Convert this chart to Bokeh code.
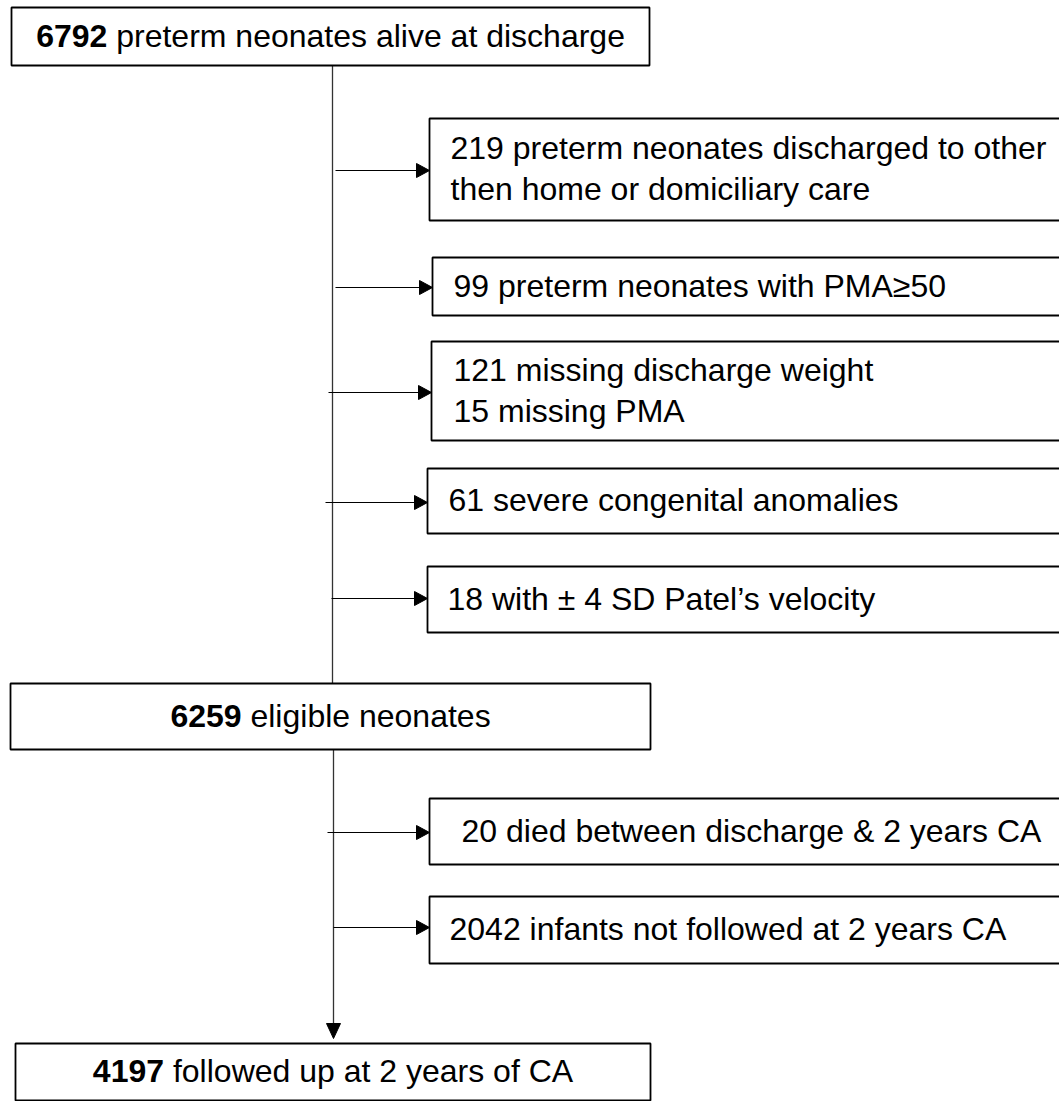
from bokeh.plotting import figure
from bokeh.models import Range1d
from bokeh.core.properties import value
from bokeh.embed import file_html
from bokeh.resources import INLINE

# ---------------- data ----------------
main_counts = ["6792", "6259", "4197"]
main_labels = ["preterm neonates alive at discharge",
               "eligible neonates",
               "followed up at 2 years of CA"]

excl_lines = [
    ["219 preterm neonates discharged to other", "then home or domiciliary care"],
    ["99 preterm neonates with PMA\u226550"],
    ["121 missing discharge weight", "15 missing PMA"],
    ["61 severe congenital anomalies"],
    ["18 with \u00b1 4 SD Patel\u2019s velocity"],
    ["20 died between discharge & 2 years CA"],
    ["2042 infants not followed at 2 years CA"],
]

# ---------------- layout (screen pixels) ----------------
main_left = [11, 10, 15]
main_right = [649, 650, 650]
main_top = [7, 683, 1043]
main_bottom = [65, 749, 1100]

side_left = [429, 432, 431, 427, 427, 429, 429]
side_top = [118, 257, 341, 468, 566, 798, 896]
side_bottom = [220, 315, 440, 533, 632, 864, 963]
side_arrow_y = [170, 287, 392, 502, 598, 832, 927]
side_arrow_x0 = [335, 335, 328, 325, 331, 327, 333]
side_text_x = [450, 453, 453, 448, 447, 461, 449]

spine_x = [332, 333]

FONT = "Liberation Sans"
FS = 32
LINE_GAP = 41
BASE_OFF = -1.0   # baseline offset from box centre (empirically corrected)

# Arial / Liberation Sans advance widths (1/1000 em)
ADV = {' ': 278, 'a': 556, 'b': 556, 'c': 500, 'd': 556, 'e': 556, 'f': 278,
       'g': 556, 'h': 556, 'i': 222, 'l': 222, 'm': 833, 'n': 556, 'o': 556,
       'p': 556, 'r': 333, 's': 500, 't': 278, 'u': 556, 'v': 500, 'w': 722,
       'y': 500, 'A': 667, 'C': 722}
for d in "0123456789":
    ADV[d] = 556


def text_w(s):
    return sum(ADV.get(ch, 556) for ch in s) / 1000.0 * FS


p = figure(width=1059, height=1101,
           x_range=Range1d(0, 1059), y_range=Range1d(1101, 0),
           output_backend="svg", toolbar_location=None,
           x_axis_location=None, y_axis_location=None,
           min_border=0, background_fill_color="white",
           border_fill_color="white")
p.grid.visible = False
p.outline_line_color = None

# spine lines
p.segment(x0=[spine_x[0], spine_x[1]], y0=[main_bottom[0], main_bottom[1]],
          x1=[spine_x[0], spine_x[1]], y1=[main_top[1], main_top[2] - 19],
          line_color="#333333", line_width=1.3)
# down arrowhead
tip_y = main_top[2] - 5
p.patches(xs=[[spine_x[1] - 7, spine_x[1], spine_x[1] + 7]],
          ys=[[tip_y - 15, tip_y, tip_y - 15]],
          fill_color="black", line_color="black", line_width=1)

# side arrows
p.segment(x0=side_arrow_x0, y0=side_arrow_y,
          x1=[l - 11 for l in side_left], y1=side_arrow_y,
          line_color="black", line_width=1.2)
p.patches(xs=[[l - 13, l, l - 13] for l in side_left],
          ys=[[y - 7, y, y + 7] for y in side_arrow_y],
          fill_color="black", line_color="black", line_width=1)

# boxes
p.quad(left=main_left, right=main_right, top=main_top, bottom=main_bottom,
       fill_color="white", line_color="black", line_width=1.8)
p.quad(left=side_left, right=[1100] * len(side_left), top=side_top, bottom=side_bottom,
       fill_color="white", line_color="black", line_width=1.8)

# side texts
tx, ty, tt = [], [], []
for i, lines in enumerate(excl_lines):
    cy = (side_top[i] + side_bottom[i]) / 2.0
    n = len(lines)
    for k, s in enumerate(lines):
        tx.append(side_text_x[i])
        ty.append(cy + BASE_OFF + (k - (n - 1) / 2.0) * LINE_GAP)
        tt.append(s)
p.text(x=tx, y=ty, text=tt, text_font=value(FONT), text_font_size=value(f"{FS}px"),
       text_color="black", text_align="left", text_baseline="alphabetic")

# main texts (bold count + regular label), centred in box
bx, by, bt, rx, ry, rt = [], [], [], [], [], []
for i in range(len(main_counts)):
    cx = (main_left[i] + main_right[i]) / 2.0
    cy = (main_top[i] + main_bottom[i]) / 2.0
    head = main_counts[i] + " "
    total = text_w(head) + text_w(main_labels[i])
    start = cx - total / 2.0
    bx.append(start); by.append(cy + BASE_OFF); bt.append(main_counts[i])
    rx.append(start + text_w(head)); ry.append(cy + BASE_OFF); rt.append(main_labels[i])
p.text(x=bx, y=by, text=bt, text_font=value(FONT), text_font_size=value(f"{FS}px"),
       text_font_style="bold", text_color="black", text_align="left",
       text_baseline="alphabetic")
p.text(x=rx, y=ry, text=rt, text_font=value(FONT), text_font_size=value(f"{FS}px"),
       text_color="black", text_align="left", text_baseline="alphabetic")

open("out.html", "w").write(file_html(p, INLINE))
